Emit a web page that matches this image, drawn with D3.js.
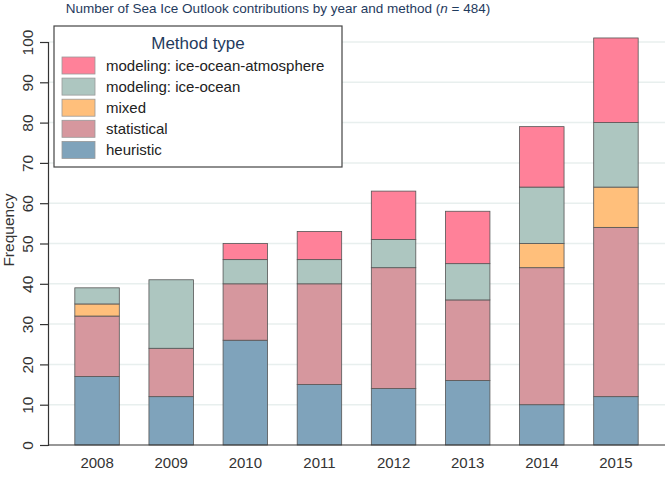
<!DOCTYPE html>
<html>
<head>
<meta charset="utf-8">
<script src="https://cdn.jsdelivr.net/npm/d3@7"></script>
<style>
  body { margin: 0; background: #fff; }
  text { font-family: "Liberation Sans", Arial, sans-serif; }
</style>
</head>
<body>
<div id="chart"></div>
<script>
// data
var years = ["2008", "2009", "2010", "2011", "2012", "2013", "2014", "2015"];
var heuristic = [17, 12, 26, 15, 14, 16, 10, 12];
var statistical = [15, 12, 14, 25, 30, 20, 34, 42];
var mixed = [3, 0, 0, 0, 0, 0, 6, 10];
var iceOcean = [4, 17, 6, 6, 7, 9, 14, 16];
var iceOceanAtm = [0, 0, 4, 7, 12, 13, 15, 21];
var yTicks = [0, 10, 20, 30, 40, 50, 60, 70, 80, 90, 100];

var methods = ["heuristic", "statistical", "mixed", "iceOcean", "iceOceanAtm"];
var labels = {
  heuristic: "heuristic",
  statistical: "statistical",
  mixed: "mixed",
  iceOcean: "modeling: ice-ocean",
  iceOceanAtm: "modeling: ice-ocean-atmosphere"
};
var colors = {
  heuristic: "#7fa3bb",
  statistical: "#d6979e",
  mixed: "#ffbf7b",
  iceOcean: "#adc6c0",
  iceOceanAtm: "#ff8199"
};

var svgWidth = 671;
var svgHeight = 478;

var svg = d3.select("#chart")
  .append("svg")
  .attr("width", svgWidth)
  .attr("height", svgHeight);

// build table for the stack
var table = years.map(function(y, i) {
  return {
    year: y,
    heuristic: heuristic[i],
    statistical: statistical[i],
    mixed: mixed[i],
    iceOcean: iceOcean[i],
    iceOceanAtm: iceOceanAtm[i]
  };
});

var stacked = d3.stack().keys(methods)(table);

var xScale = d3.scaleBand()
  .domain(years)
  .range([60, 653])
  .paddingInner(0.4)
  .paddingOuter(0.2);

var yScale = d3.scaleLinear()
  .domain([0, 100])
  .range([445, 42]);

// gridlines
svg.append("g")
  .selectAll("line")
  .data(yTicks.slice(1))
  .enter()
  .append("line")
  .attr("x1", 48)
  .attr("x2", 665)
  .attr("y1", d => yScale(d))
  .attr("y2", d => yScale(d))
  .attr("stroke", "#e8efee")
  .attr("stroke-width", 1.5);

// bars
svg.append("g")
  .selectAll("g")
  .data(stacked)
  .enter()
  .append("g")
  .attr("fill", d => colors[d.key])
  .selectAll("rect")
  .data(d => d.filter(s => s[1] > s[0]))
  .enter()
  .append("rect")
  .attr("x", d => xScale(d.data.year))
  .attr("width", xScale.bandwidth())
  .attr("y", d => yScale(d[1]))
  .attr("height", d => yScale(d[0]) - yScale(d[1]))
  .attr("stroke", "#555")
  .attr("stroke-width", 0.8);

// y axis
var leftAxis = d3.axisLeft(yScale)
  .tickValues(yTicks)
  .tickSize(8)
  .tickPadding(0)
  .tickFormat(d3.format("d"));

var yAxis = svg.append("g")
  .attr("transform", "translate(48,0)")
  .call(leftAxis);

yAxis.select(".domain").attr("stroke", "#333").attr("stroke-width", 1.2);
yAxis.selectAll(".tick line").attr("stroke", "#333").attr("stroke-width", 1.2);
yAxis.selectAll(".tick text")
  .attr("transform", "rotate(-90)")
  .attr("x", 0)
  .attr("y", -15)
  .attr("dy", 0)
  .attr("text-anchor", "middle")
  .attr("fill", "#333")
  .style("font-size", "15.5px");

// x axis
var bottomAxis = d3.axisBottom(xScale).tickSize(0).tickPadding(12);
var xAxis = svg.append("g")
  .attr("transform", "translate(0,445)")
  .call(bottomAxis);
xAxis.select(".domain").attr("d", "M48,0H665").attr("stroke", "#333").attr("stroke-width", 1.2);
xAxis.selectAll(".tick text")
  .attr("fill", "#333")
  .style("font-size", "15px");

// titles
svg.append("text")
  .attr("x", 278)
  .attr("y", 13)
  .attr("text-anchor", "middle")
  .attr("fill", "#1f3b5e")
  .style("font-size", "13.5px")
  .html("Number of Sea Ice Outlook contributions by year and method (<tspan font-style='italic'>n</tspan> = 484)");

svg.append("text")
  .attr("transform", "translate(14,230) rotate(-90)")
  .attr("text-anchor", "middle")
  .attr("fill", "#333")
  .style("font-size", "15.5px")
  .text("Frequency");

// legend
var legend = svg.append("g");
legend.append("rect")
  .attr("x", 54)
  .attr("y", 26)
  .attr("width", 288)
  .attr("height", 141)
  .attr("fill", "#fff")
  .attr("stroke", "#444")
  .attr("stroke-width", 1.2);

legend.append("text")
  .attr("x", 198)
  .attr("y", 49)
  .attr("text-anchor", "middle")
  .attr("fill", "#1f3b5e")
  .style("font-size", "17px")
  .text("Method type");

var legendOrder = methods.slice().reverse();
var items = legend.selectAll(".item")
  .data(legendOrder)
  .enter()
  .append("g")
  .attr("transform", (d, i) => `translate(62, ${57 + i * 21.1})`);

items.append("rect")
  .attr("width", 33)
  .attr("height", 17)
  .attr("fill", d => colors[d])
  .attr("stroke", "#999")
  .attr("stroke-width", 0.8);

items.append("text")
  .attr("x", 44)
  .attr("y", 14)
  .attr("fill", "#222")
  .style("font-size", "15px")
  .text(d => labels[d]);
</script>
</body>
</html>
